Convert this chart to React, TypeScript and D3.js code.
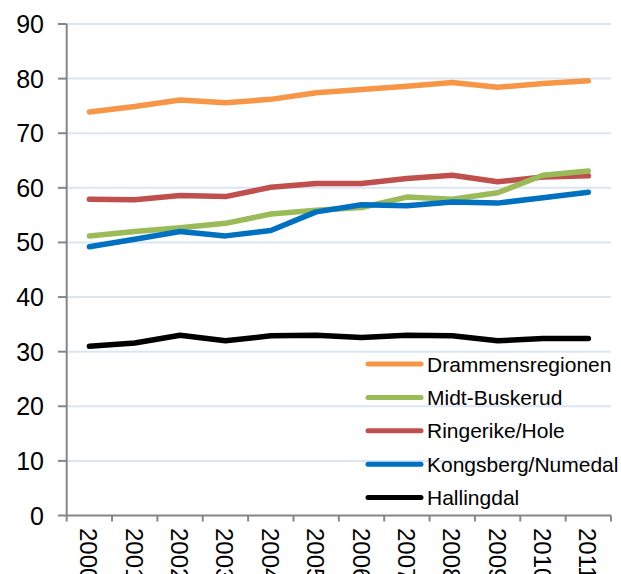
import React from "react";
import * as d3 from "d3";

const years = ["2000","2001","2002","2003","2004","2005","2006","2007","2008","2009","2010","2011"];
const drammen = [73.9, 74.9, 76.1, 75.6, 76.2, 77.4, 78.0, 78.6, 79.3, 78.4, 79.1, 79.6];
const midt = [51.2, 52.0, 52.7, 53.5, 55.2, 55.9, 56.4, 58.3, 57.9, 59.1, 62.3, 63.1];
const ringerike = [57.9, 57.8, 58.6, 58.4, 60.1, 60.8, 60.8, 61.7, 62.3, 61.1, 62.0, 62.2];
const kongsberg = [49.2, 50.6, 52.0, 51.2, 52.2, 55.6, 56.9, 56.7, 57.4, 57.2, 58.2, 59.2];
const hallingdal = [31.0, 31.6, 33.0, 32.0, 32.9, 33.0, 32.6, 33.0, 32.9, 32.0, 32.4, 32.4];
const yTicks = [0, 10, 20, 30, 40, 50, 60, 70, 80, 90];

const seriesNames = ["Drammensregionen", "Midt-Buskerud", "Ringerike/Hole", "Kongsberg/Numedal", "Hallingdal"];
const seriesColors = ["#F79646", "#9BBB59", "#C0504D", "#0070C0", "#000000"];
const seriesValues = [drammen, midt, ringerike, kongsberg, hallingdal];
// drawing order (back to front)
const drawOrder = [0, 2, 1, 3, 4];

export default function App() {
  const W = 621, H = 574;
  const left = 66.7, right = 611, top = 24, bottom = 515.5;
  const x = d3.scaleBand<string>().domain(years).range([left, right]);
  const y = d3.scaleLinear().domain([0, 90]).range([bottom, top]);
  const line = d3.line<number>()
    .x((_, i) => (x(years[i]) as number) + x.bandwidth() / 2)
    .y((d) => y(d));
  const font = "'Liberation Sans', Arial, sans-serif";
  const edges = years.map((yr) => x(yr) as number).concat([right]);

  return (
    <svg width={W} height={H} style={{ position: "absolute", left: 0, top: 0, display: "block", background: "#fff" }} fontFamily={font}>
      {yTicks.filter((t) => t > 0).map((t) => (
        <line key={"g" + t} x1={left} x2={right} y1={y(t)} y2={y(t)} stroke="#DCE6F2" strokeWidth={2} />
      ))}
      {/* y axis */}
      <line x1={left} x2={left} y1={top} y2={bottom} stroke="#868686" strokeWidth={2} />
      {yTicks.map((t) => (
        <g key={"y" + t}>
          <line x1={58} x2={left} y1={y(t)} y2={y(t)} stroke="#868686" strokeWidth={2} />
          <text x={44} y={y(t)} textAnchor="end" dominantBaseline="central" fontSize={25} fill="#000">{t}</text>
        </g>
      ))}
      {/* x axis */}
      <line x1={left} x2={right} y1={bottom} y2={bottom} stroke="#868686" strokeWidth={2} />
      {edges.map((e, i) => (
        <line key={"xt" + i} x1={e} x2={e} y1={bottom} y2={bottom + 6} stroke="#868686" strokeWidth={2} />
      ))}
      {years.map((yr) => {
        const cx = (x(yr) as number) + x.bandwidth() / 2 - 0.5;
        return (
          <text key={yr} transform={`translate(${cx},528) rotate(90)`} textAnchor="start" dominantBaseline="central" fontSize={24} fill="#000">{yr}</text>
        );
      })}
      {drawOrder.map((si) => (
        <path key={"s" + si} d={line(seriesValues[si]) || ""} fill="none" stroke={seriesColors[si]} strokeWidth={5.5} strokeLinecap="round" strokeLinejoin="round" />
      ))}
      {/* legend */}
      {seriesNames.map((n, i) => {
        const ly = 364 + i * 33.4;
        return (
          <g key={n}>
            <line x1={368} x2={421} y1={ly} y2={ly} stroke={seriesColors[i]} strokeWidth={5} strokeLinecap="round" />
            <text x={427} y={ly} dominantBaseline="central" fontSize={21} fill="#000">{n}</text>
          </g>
        );
      })}
    </svg>
  );
}
